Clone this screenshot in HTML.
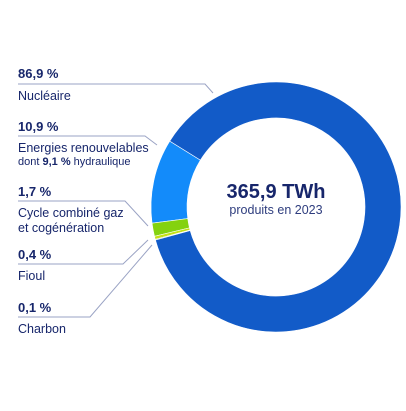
<!DOCTYPE html>
<html><head><meta charset="utf-8"><style>
body{margin:0;background:#fff;width:406px;height:406px;overflow:hidden}
svg text{font-family:"Liberation Sans",sans-serif;fill:#17266b}
</style></head><body>
<svg id="c" width="406" height="406">
<g id="slices"></g>
<g id="labels"></g>
<text x="276" y="198" text-anchor="middle" font-size="20" font-weight="bold">365,9 TWh</text>
<text x="276" y="214" text-anchor="middle" font-size="12.5" style="fill:#2e3d7e">produits en 2023</text>
</svg>
<script>
const categories=["Energies renouvelables","Cycle combiné gaz","Fioul","Charbon","Nucléaire"];
const values=[10.9,1.7,0.4,0.1,86.9];
const colors=["#138BFA","#84D20F","#C5E015","#3f8f6a","#125BC8"];
const pctLabels=["86,9 %","10,9 %","1,7 %","0,4 %","0,1 %"];
const names=[["Nucléaire"],["Energies renouvelables","dont <tspan font-weight='bold'>9,1 %</tspan> hydraulique"],["Cycle combiné gaz","et cogénération"],["Fioul"],["Charbon"]];
const NS="http://www.w3.org/2000/svg";
const cx=276,cy=207,R=125,r=89,start=301.8;
const total=values.reduce((a,b)=>a+b,0);
function pt(a,rad){const t=a*Math.PI/180;return [cx+rad*Math.sin(t),cy-rad*Math.cos(t)];}
let a=start;
const g=document.getElementById('slices');
values.forEach((v,i)=>{
 const span=v/total*360, a2=a-span;
 const p1=pt(a,R),p2=pt(a2,R),p3=pt(a2,r),p4=pt(a,r);
 const large=span>180?1:0;
 const p=document.createElementNS(NS,'path');
 p.setAttribute('d',`M${p1}A${R},${R} 0 ${large} 0 ${p2}L${p3}A${r},${r} 0 ${large} 1 ${p4}Z`);
 p.setAttribute('fill',colors[i]);p.setAttribute('stroke','#fff');p.setAttribute('stroke-width','0.6');
 
 
 g.appendChild(p);a=a2;
});
const L=document.getElementById('labels');
const lines=[[84,205,213,93],[136,145,157,145],[201,125,148,226],[264,123,148,240],[317,90,152,245]];
const pctY=[78,131,196,259,312];
lines.forEach((l,i)=>{
 const pl=document.createElementNS(NS,'polyline');
 pl.setAttribute('points',`18,${l[0]} ${l[1]},${l[0]} ${l[2]},${l[3]}`);
 pl.setAttribute('fill','none');pl.setAttribute('stroke','#9aa3c4');pl.setAttribute('stroke-width','1');
 
 
 L.appendChild(pl);
 const t=document.createElementNS(NS,'text');
 t.setAttribute('x',18);t.setAttribute('y',pctY[i]);t.setAttribute('font-size','13');t.setAttribute('font-weight','bold');
 t.textContent=pctLabels[i];
 
 
 L.appendChild(t);
 names[i].forEach((n,j)=>{
  const s=document.createElementNS(NS,'text');
  s.setAttribute('x',18);s.setAttribute('y',l[0]+16+j*(i==1?13:15));
  s.setAttribute('font-size',(i==1&&j==1)?'11':'12.5');
  s.innerHTML=n;
  
  
  L.appendChild(s);
 });
});
</script>
</body></html>
